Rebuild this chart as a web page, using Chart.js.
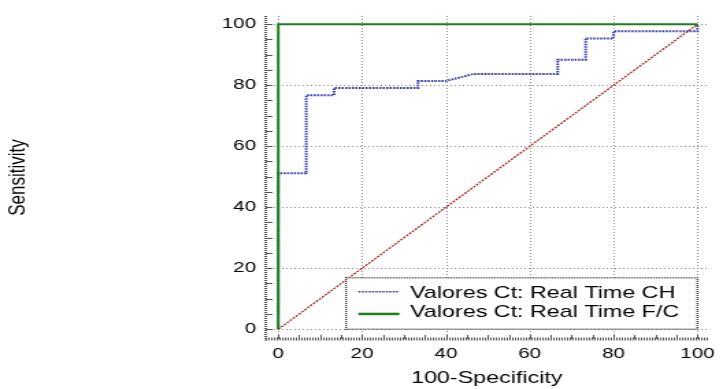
<!DOCTYPE html>
<html>
<head>
<meta charset="utf-8">
<script src="https://cdn.jsdelivr.net/npm/chart.js@4/dist/chart.umd.min.js"></script>
<style>
  html, body { margin: 0; padding: 0; background: #fff; overflow: hidden; }
  #c { display: block; width: 723px !important; height: 389px !important; }
</style>
</head>
<body>
<canvas id="c" width="528" height="389"></canvas>
<script>
// ---- data ----
const chX = [0, 0, 6.67, 6.67, 13.33, 13.33, 33.33, 33.33, 40, 46.67, 66.67, 66.67, 73.33, 73.33, 80, 80, 100, 100];
const chY = [0, 51.16, 51.16, 76.74, 76.74, 79.07, 79.07, 81.40, 81.40, 83.72, 83.72, 88.37, 88.37, 95.35, 95.35, 97.67, 97.67, 100];
const fcX = [0, 0, 100];
const fcY = [0, 100, 100];
const refX = [0, 100];
const refY = [0, 100];
const tickValues = [0, 20, 40, 60, 80, 100];
const minorTickValues = [0, 5, 10, 15, 20, 25, 30, 35, 40, 45, 50, 55, 60, 65, 70, 75, 80, 85, 90, 95, 100];
const seriesLabels = ['Valores Ct: Real Time CH', 'Valores Ct: Real Time F/C'];
const xTitle = '100-Specificity';
const yTitle = 'Sensitivity';

const pts = (xs, ys) => xs.map((x, i) => ({ x: x, y: ys[i] }));
const FONT = '"Liberation Sans", Arial, sans-serif';

const decor = {
  id: 'decor',
  beforeDatasetsDraw(chart) {
    const { ctx, chartArea: a, scales: { x, y } } = chart;
    ctx.save();
    // grid lines
    ctx.strokeStyle = '#8e8e8e';
    ctx.lineWidth = 1;
    ctx.setLineDash([1, 2]);
    tickValues.forEach(v => {
      const px = Math.round(x.getPixelForValue(v)) + 0.5;
      ctx.beginPath(); ctx.moveTo(px, a.top); ctx.lineTo(px, a.bottom); ctx.stroke();
      const py = Math.round(y.getPixelForValue(v)) + 0.5;
      ctx.beginPath(); ctx.moveTo(a.left, py); ctx.lineTo(a.right, py); ctx.stroke();
    });
    // minor ticks
    ctx.setLineDash([]);
    ctx.strokeStyle = '#555';
    minorTickValues.forEach(v => {
      const py = Math.round(y.getPixelForValue(v)) + 0.5;
      ctx.beginPath(); ctx.moveTo(a.left, py); ctx.lineTo(a.left + 5, py); ctx.stroke();
      const px = Math.round(x.getPixelForValue(v)) + 0.5;
      ctx.beginPath(); ctx.moveTo(px, a.bottom); ctx.lineTo(px, a.bottom - 4); ctx.stroke();
    });
    // axis lines
    ctx.strokeStyle = '#555';
    ctx.setLineDash([1, 1]);
    ctx.lineWidth = 2.2;
    ctx.beginPath(); ctx.moveTo(a.left, a.top); ctx.lineTo(a.left, a.bottom + 1.5); ctx.stroke();
    ctx.lineWidth = 3;
    ctx.beginPath(); ctx.moveTo(a.left, a.bottom); ctx.lineTo(a.right, a.bottom); ctx.stroke();
    ctx.restore();
  },
  afterDatasetsDraw(chart) {
    const { ctx, scales: { x, y } } = chart;
    const right = x.getPixelForValue(100);
    const bottom = y.getPixelForValue(0);
    const left = 252.7, top = bottom - 51.6;
    ctx.save();
    ctx.fillStyle = '#fff';
    ctx.fillRect(left, top, right - left, bottom - top);
    ctx.strokeStyle = '#444';
    ctx.lineWidth = 1.5;
    ctx.setLineDash([1, 1]);
    ctx.strokeRect(left, top, right - left, bottom - top);
    const rows = [top + 15.5, top + 34.5];
    const sampleY = [top + 14, top + 36.3];
    [0, 1].forEach(i => {
      const ds = chart.data.datasets[i];
      ctx.strokeStyle = ds.borderColor;
      ctx.lineWidth = i === 0 ? 1.5 : 2.5;
      ctx.setLineDash(i === 0 ? [1.5, 1] : []);
      ctx.beginPath(); ctx.moveTo(left + 9, sampleY[i]); ctx.lineTo(left + 39, sampleY[i]); ctx.stroke();
      ctx.setLineDash([]);
      ctx.fillStyle = '#000';
      ctx.font = '17px ' + FONT;
      ctx.textAlign = 'left';
      ctx.textBaseline = 'middle';
      ctx.fillText(ds.label, left + 46.8, rows[i]);
    });
    ctx.restore();
  }
};

new Chart(document.getElementById('c'), {
  type: 'scatter',
  data: {
    datasets: [
      { label: seriesLabels[0], data: pts(chX, chY), showLine: true, borderColor: '#3535ad', borderWidth: 2, borderDash: [1.5, 1], pointRadius: 0, tension: 0, order: 1 },
      { label: seriesLabels[1], data: pts(fcX, fcY), showLine: true, borderColor: '#1f7f1f', borderWidth: 2, pointRadius: 0, tension: 0, order: 0 },
      { label: 'reference', data: pts(refX, refY), showLine: true, borderColor: '#a82424', borderWidth: 1.3, borderDash: [2, 1], pointRadius: 0, tension: 0, order: 2 }
    ]
  },
  options: {
    responsive: false,
    animation: false,
    devicePixelRatio: 1,
    layout: { padding: { top: 15, right: 7, left: 0, bottom: 0 } },
    plugins: { legend: { display: false }, tooltip: { enabled: false } },
    scales: {
      x: {
        type: 'linear', position: 'bottom', min: -3, max: 102.5,
        afterFit: s => { s.height = 50; },
        afterBuildTicks: s => { s.ticks = tickValues.map(v => ({ value: v })); },
        grid: { display: false, drawTicks: false },
        border: { display: false },
        ticks: { color: '#000', font: { family: FONT, size: 15 }, padding: 6, maxRotation: 0 },
        title: { display: true, text: xTitle, color: '#000', font: { family: FONT, size: 17 }, padding: { top: 0, bottom: 0 } }
      },
      y: {
        type: 'linear', position: 'left', min: -3.2, max: 102.7,
        afterFit: s => { s.width = 194; },
        afterBuildTicks: s => { s.ticks = tickValues.map(v => ({ value: v })); },
        grid: { display: false, drawTicks: false },
        border: { display: false },
        ticks: { color: '#000', font: { family: FONT, size: 15 }, padding: 7 },
        title: { display: true, text: yTitle, color: '#000', font: { family: FONT, size: 17 }, padding: { top: 3, bottom: 0 } }
      }
    }
  },
  plugins: [decor]
});
</script>
</body>
</html>
